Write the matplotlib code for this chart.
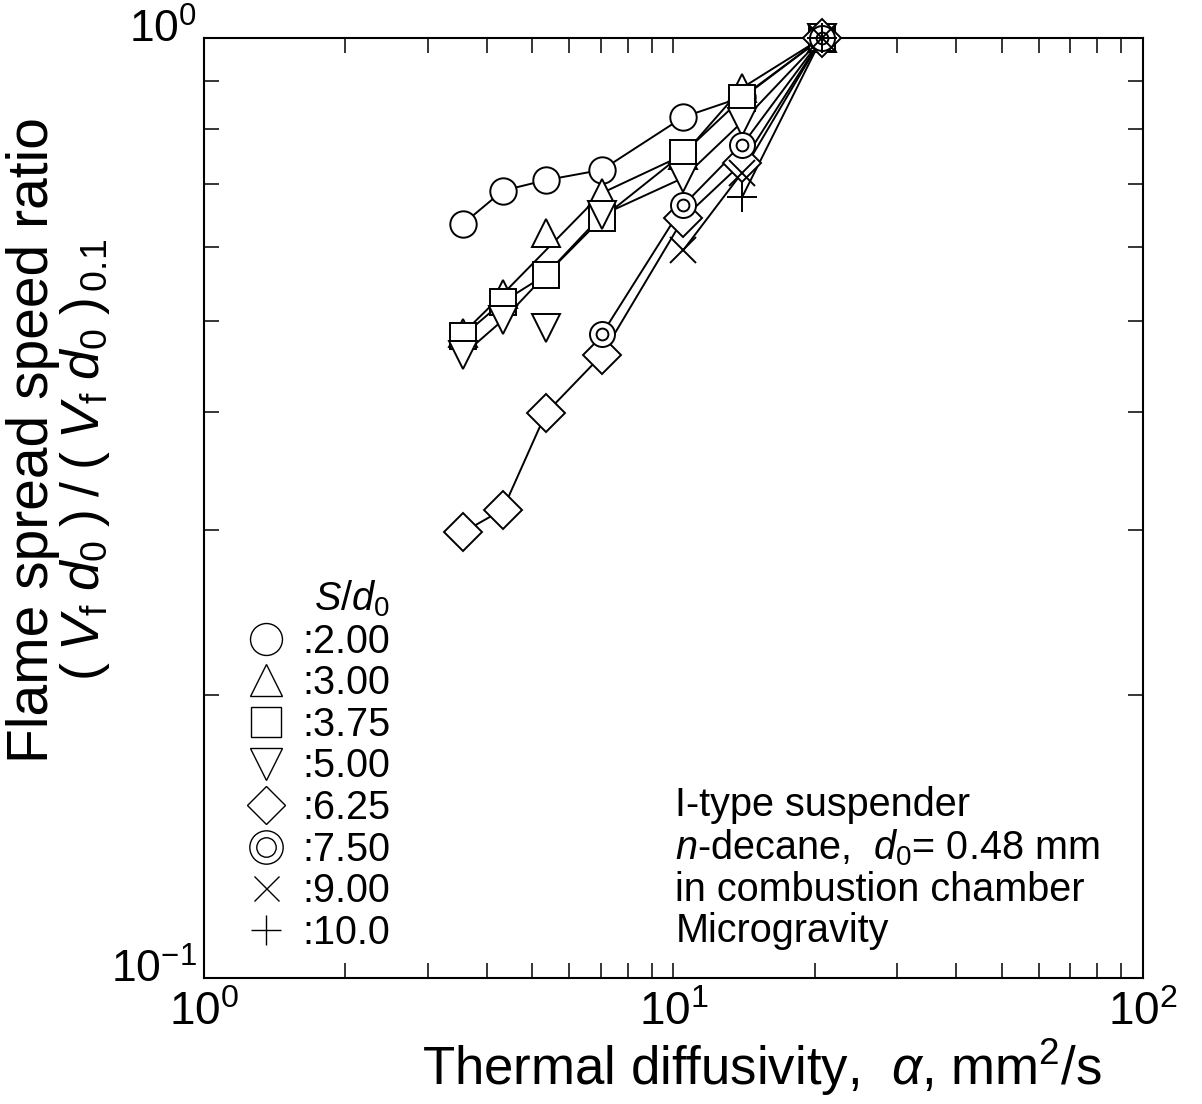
import matplotlib
matplotlib.use("Agg")
import matplotlib.pyplot as plt
from matplotlib.lines import Line2D
from matplotlib.legend_handler import HandlerTuple
from matplotlib.ticker import LogLocator, NullFormatter
from matplotlib.transforms import ScaledTranslation

plt.rcParams["font.family"] = ["Liberation Sans", "DejaVu Sans"]
plt.rcParams["mathtext.fontset"] = "custom"
plt.rcParams["mathtext.rm"] = "Liberation Sans"
plt.rcParams["mathtext.it"] = "Liberation Sans:italic"
plt.rcParams["mathtext.bf"] = "Liberation Sans:bold"

# Thermal diffusivity of the ambient gas, mm^2/s
alpha = [3.56, 4.33, 5.35, 7.04, 10.5, 14.0, 20.7]

# Normalised flame spread speed (Vf d0)/(Vf d0)_0.1 for each spacing S/d0
ratio_200 = [0.634, 0.688, 0.706, 0.724, 0.824, 0.865, 1.0]
ratio_300 = [0.485, 0.534, 0.620, 0.684, 0.751, 0.885, 1.0]
ratio_375 = [0.482, 0.524, 0.560, 0.643, 0.754, 0.863, 1.0]
ratio_500 = [0.460, 0.501, 0.491, 0.648, 0.710, 0.814, 1.0]
ratio_625 = [0.298, 0.315, 0.399, 0.460, 0.643, 0.736, 1.0]

alpha_750 = [7.04, 10.5, 14.0, 20.7]
ratio_750 = [0.484, 0.664, 0.769, 1.0]
alpha_900 = [10.5, 14.0, 20.7]
ratio_900 = [0.595, 0.719, 1.0]
alpha_1000 = [14.0, 20.7]
ratio_1000 = [0.677, 1.0]

# Points joined by the connecting line (1) or left as isolated markers (0)
joined_300 = [1, 1, 0, 1, 1, 1, 1]
joined_500 = [1, 1, 0, 1, 1, 1, 1]

spacing_labels = [":2.00", ":3.00", ":3.75", ":5.00", ":6.25", ":7.50", ":9.00", ":10.0"]

fig = plt.figure(figsize=(12.02, 11.04), dpi=100)
ax = fig.add_axes([0.1697, 0.1141, 0.7812, 0.8515])
ax.set_xscale("log")
ax.set_yscale("log")
ax.set_xlim(1, 100)
ax.set_ylim(0.1, 1)

LW = 1.4
MEW = 1.4


def joined(xs, ys, mask=None):
    if mask is None:
        return xs, ys
    return ([x for x, m in zip(xs, mask) if m], [y for y, m in zip(ys, mask) if m])


series = [
    (alpha, ratio_200, None, "o", 19),
    (alpha, ratio_300, joined_300, "^", 20),
    (alpha, ratio_375, None, "s", 19),
    (alpha, ratio_500, joined_500, "v", 20),
    (alpha, ratio_625, None, "D", 19.5),
    (alpha_750, ratio_750, None, "o", 18),
    (alpha_900, ratio_900, None, "x", 19),
    (alpha_1000, ratio_1000, None, "+", 21),
]

# connecting lines underneath all markers
for xs, ys, mask, mk, ms in series:
    lx, ly = joined(xs, ys, mask)
    ax.plot(lx, ly, color="black", lw=LW, zorder=2, solid_joinstyle="miter")

# open markers drawn on top, in series order (not clipped at the frame)
z = 3
for i, (xs, ys, mask, mk, ms) in enumerate(series):
    ax.plot(xs, ys, linestyle="none", marker=mk, ms=ms, mfc="white",
            mec="black", mew=MEW, zorder=z, clip_on=False)
    if i == 5:
        ax.plot(xs, ys, linestyle="none", marker="o", ms=8.5, mfc="none",
                mec="black", mew=MEW, zorder=z + 0.5, clip_on=False)
    z += 1

# axes styling
for sp in ax.spines.values():
    sp.set_linewidth(1.5)
ax.xaxis.set_major_locator(LogLocator(base=10, numticks=10))
ax.xaxis.set_minor_locator(LogLocator(base=10, subs=range(2, 10), numticks=20))
ax.yaxis.set_major_locator(LogLocator(base=10, numticks=10))
ax.yaxis.set_minor_locator(LogLocator(base=10, subs=range(2, 10), numticks=20))
ax.xaxis.set_minor_formatter(NullFormatter())
ax.yaxis.set_minor_formatter(NullFormatter())
ax.tick_params(which="both", direction="in", length=11, width=1.1,
               top=True, right=True, labelsize=33)
ax.tick_params(axis="x", which="major", pad=9)
ax.tick_params(axis="y", which="major", pad=5, labelsize=32)

# lift the y tick labels a little above their ticks
fig.canvas.draw()
lift = ScaledTranslation(0, 9 / 72, fig.dpi_scale_trans)
for lbl in ax.get_yticklabels():
    lbl.set_transform(lbl.get_transform() + lift)

ax.set_xlabel(r"Thermal diffusivity,  $\alpha$, mm$^2$/s", fontsize=38)
ax.xaxis.set_label_coords(0.594, -0.062)

# two-line y label: descriptive line plus the ratio definition
ax.set_ylabel("Flame spread speed ratio", fontsize=41)
ax.yaxis.set_label_coords(-0.153, 0.572)
ax.text(-0.098, 0.551,
        r"$(\;V_\mathrm{f}\;d_0\;)\;/\;(\;V_\mathrm{f}\;d_0\;)_{\,0.1}$",
        transform=ax.transAxes, rotation=90, rotation_mode="anchor",
        ha="center", va="bottom", fontsize=38.5)

# legend of spacing ratios
lkw = dict(linestyle="none", mfc="white", mec="black", mew=1.0)
handles = [
    Line2D([], [], marker="o", ms=23, **lkw),
    Line2D([], [], marker="^", ms=23, **lkw),
    Line2D([], [], marker="s", ms=22, **lkw),
    Line2D([], [], marker="v", ms=23, **lkw),
    Line2D([], [], marker="D", ms=19, **lkw),
    (Line2D([], [], marker="o", ms=24, **lkw),
     Line2D([], [], marker="o", ms=14, **lkw)),
    Line2D([], [], marker="x", ms=18, **lkw),
    Line2D([], [], marker="+", ms=21, **lkw),
]
leg = ax.legend(handles, spacing_labels, loc="lower left",
                bbox_to_anchor=(0.047, 0.028), borderaxespad=0, borderpad=0,
                frameon=False, fontsize=28.5, title=r"$S/d_0$",
                title_fontsize=28.5, alignment="right", handlelength=0.9,
                handletextpad=0.46, labelspacing=0.09, handleheight=0.7,
                handler_map={tuple: HandlerTuple(ndivide=1)})

ax.text(0.502, 0.030,
        "I-type suspender\n"
        r"$n$-decane,  $d_0$= 0.48 mm" "\n"
        "in combustion chamber\n"
        "Microgravity",
        transform=ax.transAxes, fontsize=28.5, ha="left", va="bottom",
        linespacing=1.1)

fig.savefig("out.png", dpi=100, facecolor="white")
